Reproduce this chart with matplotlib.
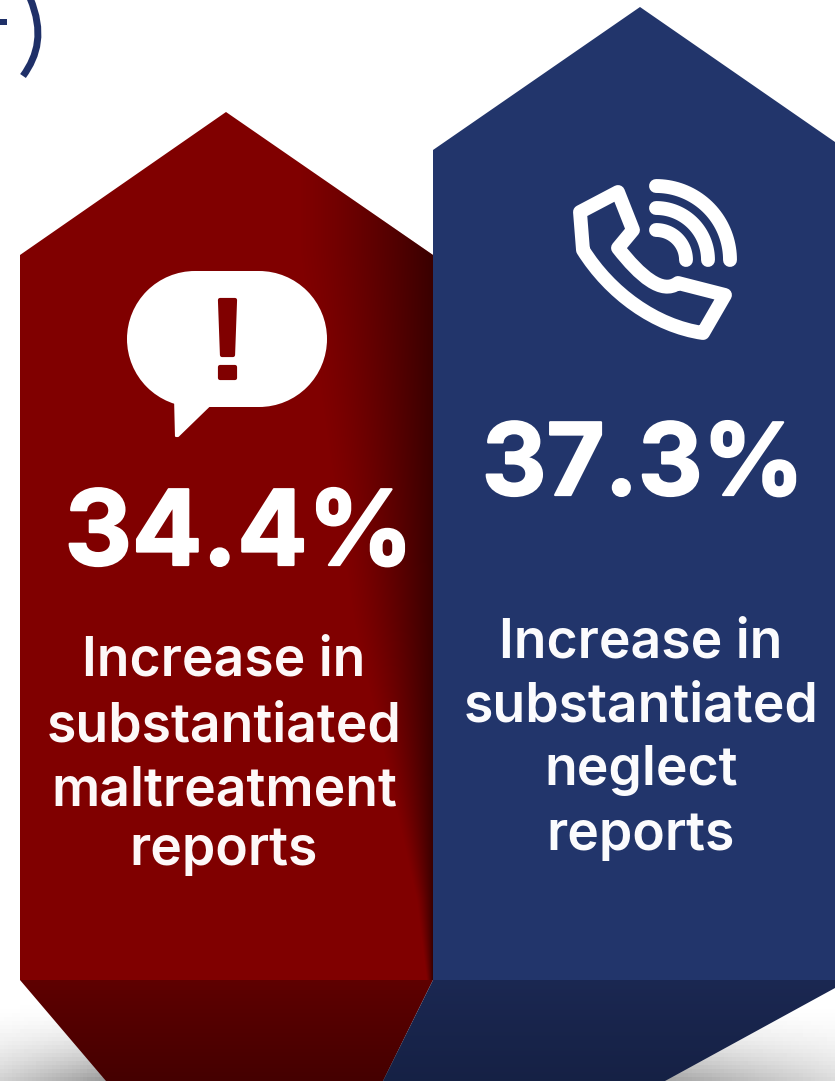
import matplotlib
matplotlib.use("Agg")
import matplotlib.pyplot as plt
import matplotlib.patheffects as pe
from matplotlib.patches import Polygon, PathPatch, Circle, Rectangle
from matplotlib.path import Path
import numpy as np

# values and wording for the two panels
categories = ["maltreatment", "neglect"]
increase_pct = [34.4, 37.3]
red_lines = ["Increase in", "substantiated", "maltreatment", "reports"]
blue_lines = ["Increase in", "substantiated", "neglect", "reports"]

RED = "#800000"
BLUE = "#22356b"
WHITE = "#ffffff"
FONT = "Inter"

W, H = 835, 1081
fig = plt.figure(figsize=(W / 100, H / 100), dpi=100)
ax = fig.add_axes([0, 0, 1, 1])


def reset_limits():
    ax.set_xlim(0, W)
    ax.set_ylim(H, 0)


ax.axis("off")

# grey shadow along the bottom of the page, strongest under the panels
gx, gy = np.meshgrid(np.linspace(0, W, 210), np.linspace(0, H, 270))
v = np.clip((gy - 1000) / 81, 0, 1) ** 1.8
u = np.interp(gx, [0, 110, 400, 660, 835], [0.45, 1, 1, 0.9, 0.35])
ax.imshow(1 - 0.40 * v * u, extent=[0, W, H, 0], cmap="gray", vmin=0, vmax=1,
          aspect="auto", zorder=0)
reset_limits()

# bracket fragment in the top corner
ax.add_patch(PathPatch(Path([(30, -2), (44, 32), (38, 55), (23, 76)],
                            [Path.MOVETO, Path.CURVE4, Path.CURVE4, Path.CURVE4]),
                       fc="none", ec="#1f3068", lw=5, capstyle="butt", zorder=1))
ax.add_patch(Polygon([(0, 19), (6.5, 19), (6.5, 25), (0, 25)], fc="#1f3068", ec="none", zorder=1))

# panel bodies
red_body = [(20, 255), (226, 112), (433, 255), (433, 980), (20, 980)]
blue_body = [(433, 150), (640, 7), (835, 142), (835, 980), (433, 980)]
red_foot = [(20, 980), (433, 980), (383, 1081), (106, 1081)]
blue_foot = [(433, 980), (835, 980), (835, 988), (665, 1081), (383, 1081)]

red_patch = Polygon(red_body, fc=RED, ec="none", zorder=2)
ax.add_patch(red_patch)
ax.add_patch(Polygon(blue_body, fc=BLUE, ec="none", zorder=3))


def foot(points, top, bottom, zorder):
    clip = Polygon(points, fc="none", ec="none", zorder=zorder)
    ax.add_patch(clip)
    grad = np.linspace(0, 1, 128).reshape(-1, 1, 1)
    rgb = np.array(top) * (1 - grad) + np.array(bottom) * grad
    im = ax.imshow(rgb, extent=[0, W, 1081, 980], aspect="auto", zorder=zorder)
    im.set_clip_path(clip)


foot(red_foot, (0.37, 0.0, 0.0), (0.27, 0.0, 0.0), 2.5)
foot(blue_foot, (0.105, 0.155, 0.32), (0.085, 0.13, 0.27), 3.5)
reset_limits()

# dark fold on the right of the red panel, narrowing towards the bottom
xs = np.linspace(20, 433, 414)
ys = np.linspace(112, 980, 400)
fx, fy = np.meshgrid(xs, ys)
width = np.interp(fy, [250, 620, 900, 980], [135, 80, 16, 6])
fold = np.clip(1 - (433 - fx) / width, 0, 1) ** 1.3 * 0.55
overlay = np.zeros(fx.shape + (4,))
overlay[..., 3] = fold
im = ax.imshow(overlay, extent=[20, 433, 980, 112], aspect="auto", zorder=2.2)
im.set_clip_path(red_patch)
reset_limits()

# speech bubble with exclamation mark
ax.add_patch(Circle((195, 339), 68, fc=WHITE, ec="none", zorder=5))
ax.add_patch(Circle((259, 339), 68, fc=WHITE, ec="none", zorder=5))
ax.add_patch(Rectangle((195, 271), 64, 136, fc=WHITE, ec="none", zorder=5))
ax.add_patch(Polygon([(175, 395), (176, 436), (178, 436), (212, 403)], fc=WHITE, ec=WHITE,
                     lw=1.5, joinstyle="round", zorder=5))
ax.add_patch(Polygon([(220, 300), (235, 300), (233, 355), (222, 355)], fc=RED, ec=RED,
                     lw=3, joinstyle="round", zorder=6))
ax.add_patch(Polygon([(220, 367), (235, 367), (235, 378), (220, 378)], fc=RED, ec=RED,
                     lw=3, joinstyle="round", zorder=6))

# telephone handset outline
handset = Path(
    [(580, 212), (618, 192), (633, 230), (618, 248),
     (640, 276), (662, 295), (678, 283), (725, 295),
     (703, 333), (655, 326), (610, 293), (583, 250), (580, 212), (580, 212)],
    [Path.MOVETO, Path.LINETO, Path.LINETO, Path.LINETO,
     Path.CURVE4, Path.CURVE4, Path.LINETO, Path.LINETO,
     Path.LINETO, Path.CURVE4, Path.CURVE4, Path.CURVE4, Path.LINETO, Path.CLOSEPOLY])
ax.add_patch(PathPatch(handset, fc="none", ec=WHITE, lw=10, joinstyle="round", zorder=5))

# signal arcs above the handset
for r in [30, 52, 74]:
    a = np.linspace(-np.pi / 2, 0, 40)
    ax.plot(656 + r * np.cos(a), 260 + r * np.sin(a), color=WHITE, lw=10,
            solid_capstyle="round", zorder=5)

heavy = [pe.withStroke(linewidth=1.6, foreground=WHITE)]

# percentages
ax.text(239, 565, f"{increase_pct[0]}%", color=WHITE, fontsize=75, fontweight="bold",
        family=FONT, ha="center", va="baseline", zorder=6, path_effects=heavy)
ax.text(643, 495, f"{increase_pct[1]}%", color=WHITE, fontsize=72, fontweight="bold",
        family=FONT, ha="center", va="baseline", zorder=6, path_effects=heavy)

# captions
for line, base in zip(red_lines, [676, 741, 805, 865]):
    ax.text(224, base, line, color="#fdf8f8", fontsize=38.5, fontweight="semibold",
            family=FONT, ha="center", va="baseline", zorder=6)
for line, base in zip(blue_lines, [658, 722, 785, 850]):
    ax.text(641, base, line, color="#fbfbfd", fontsize=38.5, fontweight="semibold",
            family=FONT, ha="center", va="baseline", zorder=6)

fig.savefig("out.png", dpi=100)
